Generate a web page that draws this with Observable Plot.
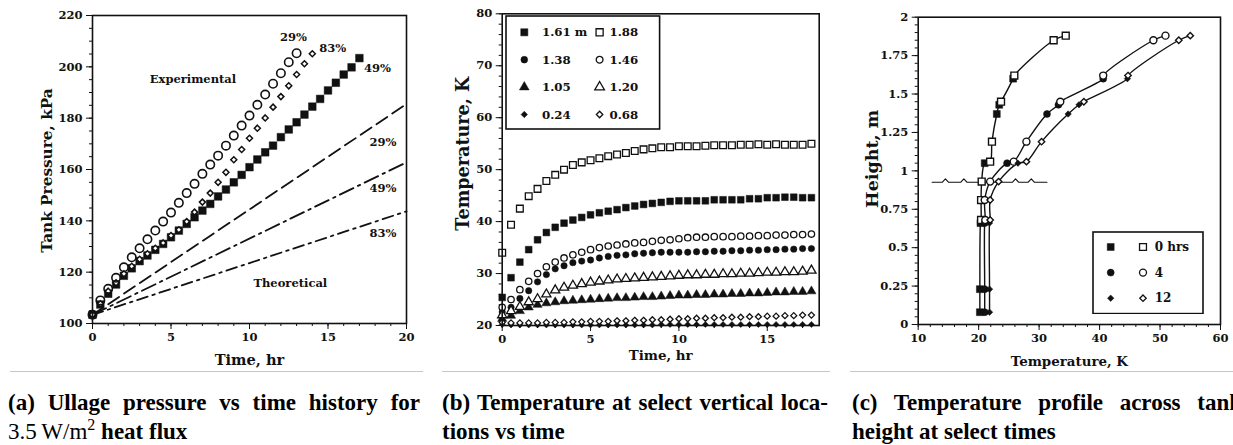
<!DOCTYPE html>
<html>
<head>
<meta charset="utf-8">
<script src="https://cdn.jsdelivr.net/npm/d3@7"></script>
<script src="https://cdn.jsdelivr.net/npm/@observablehq/plot@0.6"></script>
<style>
html, body { margin:0; padding:0; background:#fff; width:1233px; height:445px; overflow:hidden; }
#root { position:relative; width:1233px; height:445px; }
.panel { position:absolute; top:0; }
.legend { position:absolute; }
.rule { position:absolute; top:371px; height:1.3px; background:#c6c6c6; }
.cap { position:absolute; top:388px; font-family:"Liberation Serif","Times New Roman",serif; font-weight:bold; font-size:23px; line-height:29px; color:#000; }
.cap .l1 { text-align:justify; text-align-last:justify; white-space:normal; }
.cap .l2 { white-space:nowrap; }
.cap .rm { font-weight:normal; }
.cap .sup { font-size:16px; vertical-align:9px; line-height:0; font-weight:normal; }
</style>
</head>
<body>
<div id="root">
  <div class="panel" id="pa" style="left:0px"></div>
  <div class="panel" id="pb" style="left:420px"></div>
  <div class="panel" id="pc" style="left:830px"></div>
  <div class="rule" style="left:10px;width:413px"></div>
  <div class="rule" style="left:442px;width:388px"></div>
  <div class="rule" style="left:850px;width:383px"></div>
  <div class="cap" style="left:8px;width:412px">
    <div class="l1">(a) Ullage pressure vs time history for</div>
    <div class="l2"><span class="rm">3.5&#8201;W/m<span class="sup">2</span></span> heat flux</div>
  </div>
  <div class="cap" style="left:442px;width:386px">
    <div class="l1">(b) Temperature at select vertical loca-</div>
    <div class="l2">tions vs time</div>
  </div>
  <div class="cap" style="left:852px;width:390px">
    <div class="l1">(c) Temperature profile across tank</div>
    <div class="l2">height at select times</div>
  </div>
</div>
<script>
// ---------------- DATA ----------------
// (a) Tank pressure (kPa) vs time (hr)
const aTime29 = [0,0.5,1,1.5,2,2.5,3,3.5,4,4.5,5,5.5,6,6.5,7,7.5,8,8.5,9,9.5,10,10.5,11,11.5,12,12.5,13];
const aExp29 = [103.4,109.0,113.5,117.8,121.9,125.8,129.3,132.8,136.2,139.7,143.2,147.0,150.8,154.4,158.3,161.9,165.4,169.3,173.2,177.1,181.0,185.2,189.2,193.4,197.5,201.8,205.3];
const aTime83 = [0,0.5,1,1.5,2,2.5,3,3.5,4,4.5,5,5.5,6,6.5,7,7.5,8,8.5,9,9.5,10,10.5,11,11.5,12,12.5,13,13.5,14];
const aExp83 = [103.4,107.7,112.6,115.9,119.4,122.3,125.0,127.2,129.3,131.4,134.3,136.5,139.7,143.4,147.3,150.8,155.0,158.9,163.8,167.8,172.2,176.1,180.1,184.3,188.4,192.6,197.0,201.2,205.1];
const aTime49 = [0,0.5,1,1.5,2,2.5,3,3.5,4,4.5,5,5.5,6,6.5,7,7.5,8,8.5,9,9.5,10,10.5,11,11.5,12,12.5,13,13.5,14,14.5,15,15.5,16,16.5,17];
const aExp49 = [103.4,107.4,111.6,115.2,118.6,121.5,124.3,126.5,128.7,131.0,133.6,136.2,138.8,141.4,144.0,146.6,149.5,152.2,155.0,157.9,160.9,163.9,166.7,169.3,172.6,175.6,178.4,181.4,184.5,187.5,190.8,193.8,197.0,199.8,203.4];
const aTheoTime = [0, 20];
const aTheo29 = [103.4, 185.5];
const aTheo49 = [103.4, 162.8];
const aTheo83 = [103.4, 143.7];
const aNoteText = ["29%","83%","49%","Experimental","29%","49%","83%","Theoretical"];
const aNoteX = [12.8,15.3,18.15,6.4,18.5,18.5,18.5,12.6];
const aNoteY = [211.4,207.1,199.3,195.0,170.5,152.6,135.0,115.6];
const aXTicks = [0,5,10,15,20];
const aYTicks = [100,120,140,160,180,200,220];

// (b) Temperature (K) vs time (hr) at heights
const bTime = [0,0.5,1,1.5,2,2.5,3,3.5,4,4.5,5,5.5,6,6.5,7,7.5,8,8.5,9,9.5,10,10.5,11,11.5,12,12.5,13,13.5,14,14.5,15,15.5,16,16.5,17,17.5];
const b161 = [25.4,29.2,32.2,34.6,36.5,37.9,38.9,39.7,40.3,40.8,41.3,41.7,42.0,42.3,42.7,43.0,43.3,43.5,43.7,43.9,44.0,44.0,44.0,44.0,44.2,44.2,44.2,44.2,44.4,44.4,44.6,44.6,44.7,44.7,44.6,44.6];
const b188 = [34.0,39.4,42.5,44.9,46.3,47.8,49.0,50.0,50.9,51.4,51.8,52.2,52.6,52.9,53.2,53.6,53.9,54.1,54.3,54.3,54.5,54.5,54.5,54.6,54.7,54.7,54.7,54.8,54.8,54.9,54.8,54.9,54.8,54.8,54.8,55.0];
const b138 = [22.6,23.5,25.2,26.7,28.4,29.8,30.9,31.5,32.1,32.4,32.6,33.0,33.3,33.5,33.6,33.8,33.9,34.0,34.1,34.1,34.1,34.1,34.2,34.2,34.3,34.3,34.4,34.4,34.5,34.5,34.6,34.6,34.7,34.7,34.8,34.8];
const b146 = [23.5,25.0,26.9,28.5,30.0,31.3,32.2,33.0,33.6,34.1,34.6,35.0,35.3,35.5,35.7,35.9,36.0,36.2,36.4,36.5,36.7,36.9,37.0,37.0,37.1,37.1,37.1,37.2,37.2,37.3,37.3,37.4,37.4,37.5,37.5,37.6];
const b105 = [21.3,21.9,22.8,23.5,24.0,24.3,24.5,24.7,24.8,24.9,25.0,25.1,25.2,25.3,25.3,25.4,25.5,25.5,25.6,25.7,25.8,25.8,25.9,25.9,26.0,26.0,26.1,26.1,26.2,26.2,26.3,26.4,26.4,26.5,26.5,26.6];
const b120 = [22.0,22.8,23.6,24.5,25.1,26.0,26.8,27.3,27.7,28.0,28.3,28.5,28.7,28.9,29.0,29.1,29.2,29.3,29.4,29.5,29.6,29.7,29.7,29.8,29.8,29.9,29.9,30.0,30.0,30.1,30.2,30.2,30.3,30.3,30.4,30.6];
const b024 = [20.2,20.1,20.1,20.1,20.1,20.1,20.1,20.1,20.1,20.1,20.1,20.1,20.1,20.1,20.1,20.1,20.1,20.1,20.2,20.2,20.2,20.2,20.2,20.2,20.2,20.2,20.2,20.2,20.2,20.2,20.2,20.2,20.2,20.2,20.2,20.2];
const b068 = [20.6,20.5,20.5,20.5,20.5,20.6,20.6,20.6,20.7,20.7,20.8,20.8,20.8,20.9,20.9,21.0,21.0,21.1,21.1,21.2,21.3,21.3,21.4,21.4,21.5,21.5,21.6,21.6,21.7,21.7,21.8,21.8,21.9,21.9,22.0,22.0];
const bLegendLabels = ["1.61 m","1.88","1.38","1.46","1.05","1.20","0.24","0.68"];
const bXTicks = [0,5,10,15];
const bYTicks = [20,30,40,50,60,70,80];

// (c) Height (m) vs temperature (K) at select times
const cHFilled = [1.60,1.43,1.37,1.05,0.66,0.23,0.08];
const cHOpen = [1.88,1.85,1.62,1.45,1.19,1.06,0.93,0.81,0.68];
const c0Filled = [25.7,23.4,23.0,21.0,20.3,20.2,20.2];
const c0Open = [34.4,32.4,25.9,23.7,22.2,21.9,20.5,20.4,20.4];
const c4Filled = [40.6,33.2,31.3,24.7,21.0,21.0,21.0];
const c4Open = [50.9,48.9,40.6,33.5,27.9,25.8,21.9,21.0,21.1];
const c12Filled = [44.6,36.6,34.8,26.5,21.8,21.8,21.8];
const c12Open = [55.0,53.1,44.7,37.4,30.4,27.9,23.3,21.9,21.9];
const cLegendLabels = ["0 hrs","4","12"];
const cWaterT = [12.3,14.0,14.5,15.0,17.05,17.55,18.05,25.6,26.1,26.6,28.2,28.7,29.2,31.3];
const cWaterH = [0.926,0.926,0.948,0.926,0.926,0.948,0.926,0.926,0.948,0.926,0.926,0.948,0.926,0.926];
const cXTicks = [10,20,30,40,50,60];
const cYTicks = [0,0.25,0.5,0.75,1,1.25,1.5,1.75,2];

// ---------------- DRAWING ----------------
const INK = "#111";
const FONT = "'DejaVu Serif', serif";
const steps = (a, b, s) => { const o = []; for (let k = 0; a + k * s <= b + 1e-9; k++) o.push(+(a + k * s).toFixed(4)); return o; };
const zip = (xs, ys) => xs.map((x, i) => ({x, y: ys[i]}));
const baseStyle = {fontFamily: FONT, fontWeight: "bold", fontSize: "11.5px", color: INK, background: "transparent", overflow: "visible"};

function axes(xMajor, xMinor, yMajor, yMinor, yFmt) {
  return [
    Plot.axisX({ticks: xMinor, tickSize: 3, tickFormat: () => "", label: null, stroke: INK}),
    Plot.axisX({ticks: xMajor, tickSize: 6, tickPadding: 3, label: null, stroke: INK, fill: INK}),
    Plot.axisY({ticks: yMinor, tickSize: 3, tickFormat: () => "", label: null, stroke: INK}),
    Plot.axisY({ticks: yMajor, tickSize: 6, tickPadding: 4, label: null, stroke: INK, fill: INK, tickFormat: yFmt})
  ];
}
const xTitle = (t, dy, fs) => Plot.text([t], {frameAnchor: "bottom", textAnchor: "middle", lineAnchor: "middle", dy, text: d => d, fontSize: fs, fill: INK});
const yTitle = (t, dx, dy, fs) => Plot.text([t], {frameAnchor: "left", textAnchor: "middle", lineAnchor: "middle", dx, dy, rotate: -90, text: d => d, fontSize: fs, fill: INK});

// Panel (a)
const plotA = Plot.plot({
  width: 420, height: 372,
  marginLeft: 92, marginRight: 14, marginTop: 15, marginBottom: 49,
  x: {domain: [0, 20]}, y: {domain: [100, 220]},
  style: baseStyle,
  marks: [
    ...axes(aXTicks, steps(0, 20, 1), aYTicks, steps(100, 220, 5), d => String(d)),
    Plot.line(zip(aTheoTime, aTheo29), {x: "x", y: "y", stroke: INK, strokeWidth: 1.8, strokeDasharray: "13,6"}),
    Plot.line(zip(aTheoTime, aTheo49), {x: "x", y: "y", stroke: INK, strokeWidth: 1.8, strokeDasharray: "15,5,2.5,5"}),
    Plot.line(zip(aTheoTime, aTheo83), {x: "x", y: "y", stroke: INK, strokeWidth: 1.8, strokeDasharray: "11,5,2.5,5"}),
    Plot.dot(zip(aTime49, aExp49), {x: "x", y: "y", symbol: "square", r: 4.3, fill: INK, stroke: INK, strokeWidth: 0.5}),
    Plot.dot(zip(aTime83, aExp83), {x: "x", y: "y", symbol: "diamond2", r: 2.7, fill: "white", stroke: INK, strokeWidth: 1.5}),
    Plot.dot(zip(aTime29, aExp29), {x: "x", y: "y", symbol: "circle", r: 4.2, fill: "none", stroke: INK, strokeWidth: 1.6}),
    Plot.text(aNoteText, {x: (d, i) => aNoteX[i], y: (d, i) => aNoteY[i], text: d => d, fontSize: 11.5, fill: INK}),
    xTitle("Time, hr", 37, 14.6),
    yTitle("Tank Pressure, kPa", -45, 1, 15.3),
    Plot.frame({stroke: INK, strokeWidth: 1.6})
  ]
});
document.getElementById("pa").append(plotA);

// Panel (b)
const bSeries = [
  {v: b161, sym: "square", r: 3.8, filled: true},
  {v: b188, sym: "square", r: 3.8, filled: false},
  {v: b138, sym: "circle", r: 3.2, filled: true},
  {v: b146, sym: "circle", r: 3.2, filled: false},
  {v: b105, sym: "triangle", r: 3.4, filled: true},
  {v: b120, sym: "triangle", r: 3.4, filled: false},
  {v: b024, sym: "diamond2", r: 2.7, filled: true},
  {v: b068, sym: "diamond2", r: 2.7, filled: false}
];
const plotB = Plot.plot({
  width: 420, height: 372,
  marginLeft: 81.7, marginRight: 21.3, marginTop: 13.3, marginBottom: 47,
  x: {domain: [0, 17.94]}, y: {domain: [20, 80]},
  style: baseStyle,
  marks: [
    ...axes(bXTicks, steps(0, 17, 1), bYTicks, steps(20, 80, 2), d => String(d)),
    ...bSeries.map(s => Plot.dot(zip(bTime, s.v), {
      x: "x", y: "y", symbol: s.sym, r: s.r,
      fill: s.filled ? INK : "white", stroke: INK, strokeWidth: s.filled ? 0.5 : 1.3
    })),
    xTitle("Time, hr", 30, 13.4),
    yTitle("Temperature, K", -38.4, -16, 17.6),
    Plot.frame({stroke: INK, strokeWidth: 1.6})
  ]
});
document.getElementById("pb").append(plotB);

// Panel (c)
const cSets = [
  {filled: c0Filled, open: c0Open, sym: "square", r: 3.9},
  {filled: c4Filled, open: c4Open, sym: "circle", r: 3.5},
  {filled: c12Filled, open: c12Open, sym: "diamond2", r: 2.9}
];
const cMarks = [];
cSets.forEach(s => {
  const pts = [...zip(s.filled, cHFilled), ...zip(s.open, cHOpen)].sort((p, q) => q.y - p.y);
  cMarks.push(Plot.line(pts, {x: "x", y: "y", stroke: INK, strokeWidth: 1.4, curve: "catmull-rom"}));
});
cSets.forEach(s => {
  cMarks.push(Plot.dot(zip(s.filled, cHFilled), {x: "x", y: "y", symbol: s.sym, r: s.r, fill: INK, stroke: INK, strokeWidth: 0.5}));
  cMarks.push(Plot.dot(zip(s.open, cHOpen), {x: "x", y: "y", symbol: s.sym, r: s.r, fill: "white", stroke: INK, strokeWidth: 1.4}));
});
const plotC = Plot.plot({
  width: 403, height: 372,
  marginLeft: 87.7, marginRight: 13, marginTop: 16.7, marginBottom: 48,
  x: {domain: [10, 60]}, y: {domain: [0, 2]},
  style: baseStyle,
  marks: [
    ...axes(cXTicks, steps(10, 60, 2), cYTicks, steps(0, 2, 0.05), d => String(d)),
    Plot.line(zip(cWaterT, cWaterH), {x: "x", y: "y", stroke: INK, strokeWidth: 1.1}),
    ...cMarks,
    xTitle("Temperature, K", 37.7, 13.4),
    yTitle("Height, m", -46, -12, 17.5),
    Plot.frame({stroke: INK, strokeWidth: 1.6})
  ]
});
document.getElementById("pc").append(plotC);

// ---------------- LEGENDS ----------------
const symType = {square: d3.symbolSquare, circle: d3.symbolCircle, triangle: d3.symbolTriangle, diamond2: d3.symbolDiamond2};
function legend(box, items) {
  const svg = d3.select("#root").append("svg").attr("class", "legend")
    .style("left", box.left + "px").style("top", box.top + "px")
    .attr("width", box.w + 2).attr("height", box.h + 2);
  svg.append("rect").attr("x", 1).attr("y", 1).attr("width", box.w).attr("height", box.h)
    .attr("fill", "white").attr("stroke", INK).attr("stroke-width", 1.6);
  items.forEach(it => {
    svg.append("path")
      .attr("transform", `translate(${it.sx},${it.y})`)
      .attr("d", d3.symbol().type(symType[it.sym]).size(Math.PI * it.r * it.r)())
      .attr("fill", it.filled ? INK : "white").attr("stroke", INK).attr("stroke-width", it.filled ? 0.5 : 1.3);
    if (it.label != null) {
      svg.append("text").attr("x", it.tx).attr("y", it.y).attr("dy", "0.35em")
        .attr("font-family", FONT).attr("font-weight", "bold").attr("font-size", it.fs)
        .attr("fill", INK).text(it.label);
    }
  });
}
// legend (b): two columns, four rows
legend({left: 505, top: 15, w: 153.6, h: 113},
  bSeries.map((s, i) => {
    const col = i % 2, row = Math.floor(i / 2);
    return {sym: s.sym, r: s.r + 0.2, filled: s.filled, sx: col ? 94.6 : 19.3, tx: col ? 104.5 : 37, y: 17.3 + row * 27.4, label: bLegendLabels[i], fs: 11.8};
  }));
// legend (c): filled / open columns, three rows
const cLeg = [];
cSets.forEach((s, i) => {
  cLeg.push({sym: s.sym, r: s.r, filled: true, sx: 18.7, y: 16 + i * 25.6, label: null});
  cLeg.push({sym: s.sym, r: s.r, filled: false, sx: 51, tx: 62.7, y: 16 + i * 25.6, label: cLegendLabels[i], fs: 12});
});
legend({left: 1092.3, top: 230.7, w: 110, h: 81.6}, cLeg);
</script>
</body>
</html>
